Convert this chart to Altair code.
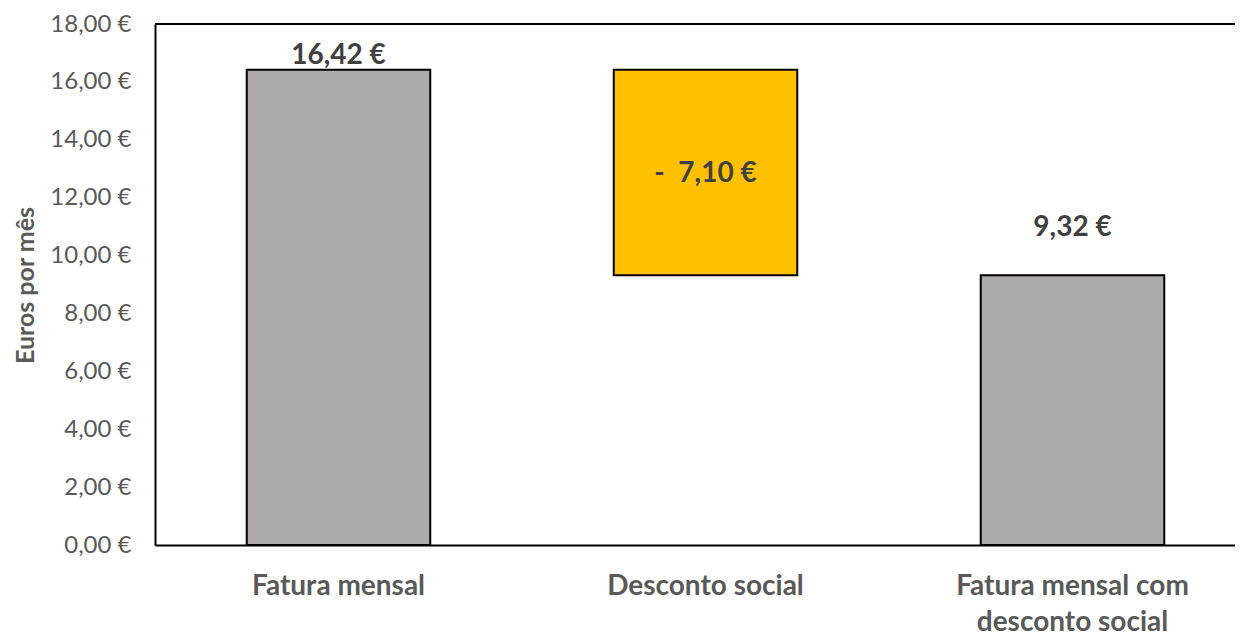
import altair as alt
import pandas as pd

categories = ["Fatura mensal", "Desconto social", "Fatura mensal com desconto social"]
values = [16.42, -7.10, 9.32]
kinds = ["total", "delta", "total"]
colors = ["#AEAAAA", "#FFC000", "#AEAAAA"]

rows = []
running = 0.0
for c, v, k, col in zip(categories, values, kinds, colors):
    if k == "total":
        start, end = 0.0, v
        running = v
    else:
        start, end = running + v, running
        running = running + v
    txt = f"{abs(v):.2f}".replace(".", ",") + " €"
    if v < 0:
        txt = "-\u00a0\u00a0" + txt
    rows.append({"cat": c, "start": start, "end": end, "mid": (start + end) / 2,
                 "color": col, "label": txt, "kind": k, "order": len(rows)})
df = pd.DataFrame(rows)

FONT = "Lato"
W, H = 1080, 521

x = alt.X("cat:N", sort=categories, title=None,
          scale=alt.Scale(range=[0, 1101], paddingInner=0.5, paddingOuter=0.25),
          axis=alt.Axis(labelAngle=0, ticks=False, domainColor="#000000", domainWidth=2,
                        labelColor="#595959", labelFont=FONT, labelFontSize=28,
                        labelFontWeight="bold", labelPadding=27, labelLineHeight=36,
                        labelBaseline="top", labelLimit=0,
                        labelExpr="datum.label == 'Fatura mensal com desconto social' ? ['Fatura mensal com', 'desconto social'] : datum.label"))
y = alt.Y("start:Q", title="Euros por mês",
          scale=alt.Scale(domain=[0, 18], nice=False),
          axis=alt.Axis(values=list(range(0, 19, 2)), grid=False, ticks=False,
                        domainColor="#000000", domainWidth=2,
                        labelColor="#595959", labelFont=FONT, labelFontSize=24,
                        labelPadding=24, labelLimit=0,
                        labelExpr="replace(format(datum.value, '.2f'), '.', ',') + ' €'",
                        titleColor="#595959", titleFont=FONT, titleFontSize=25,
                        titleFontWeight="bold", titleX=-130, titleY=261,
                        titleBaseline="middle", titleAngle=-90))

base = alt.Chart(df)

bars = base.mark_bar(stroke="#000000", strokeWidth=2).encode(
    x=x, y=y, y2="end:Q",
    color=alt.Color("color:N", scale=None),
)

toprule = alt.Chart(pd.DataFrame({"v": [18]})).mark_rule(color="#000000", strokeWidth=2).encode(
    y="v:Q", x=alt.value(0), x2=alt.value(1101)
)

lab1 = base.transform_filter("datum.order == 0").mark_text(
    font=FONT, fontSize=28, fontWeight="bold", color="#404040", baseline="alphabetic", dy=-6
).encode(x=alt.X("cat:N", sort=categories), y="end:Q", text="label:N")

lab2 = base.transform_filter("datum.kind == 'delta'").mark_text(
    font=FONT, fontSize=28, fontWeight="bold", color="#404040", baseline="middle", dy=2
).encode(x=alt.X("cat:N", sort=categories), y="mid:Q", text="label:N")

lab3 = base.transform_filter("datum.order == 2").mark_text(
    font=FONT, fontSize=28, fontWeight="bold", color="#404040", baseline="middle", dy=-47
).encode(x=alt.X("cat:N", sort=categories), y="end:Q", text="label:N")

chart = alt.layer(bars, toprule, lab1, lab2, lab3).properties(
    width=W, height=H,
    autosize=alt.AutoSizeParams(type="none"),
    padding={"left": 147, "top": 16, "right": 0, "bottom": 100},
).configure_view(stroke=None).configure(background="#FFFFFF")

chart.save("out.html", embed_options={"renderer": "svg", "actions": False})
